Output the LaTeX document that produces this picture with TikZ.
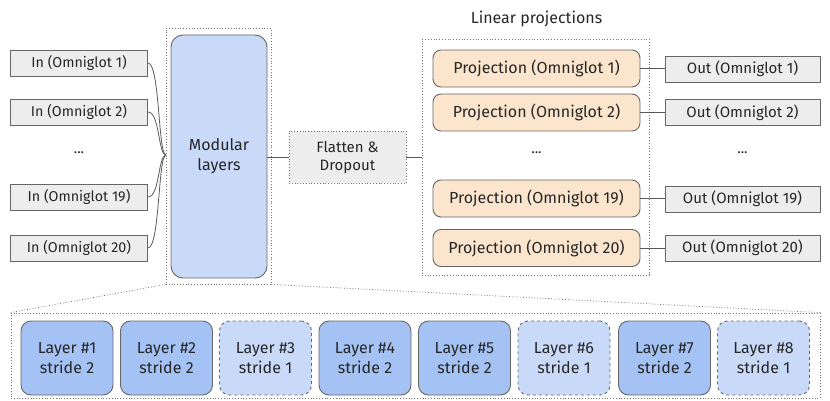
\documentclass[tikz,border=0pt]{standalone}
\usepackage{fontspec}
\setmainfont{Fira Sans}
\usetikzlibrary{calc}
\begin{document}
\begin{tikzpicture}[x=1pt,y=-1pt,
  every node/.style={font=\fontsize{16}{20}\selectfont, text=black!85, inner sep=0pt, align=center},
  iobox/.style={draw=black!60, fill=black!7, line width=0.8pt, minimum height=26pt},
  inbox/.style={iobox, minimum width=137pt, font=\fontsize{14.3}{17}\selectfont},
  outbox/.style={iobox, minimum width=155pt, font=\fontsize{15}{18}\selectfont},
  modbox/.style={draw=black!60, fill={rgb,255:red,201;green,218;blue,248}, line width=0.9pt, rounded corners=12pt},
  projbox/.style={draw=black!60, fill={rgb,255:red,252;green,229;blue,205}, line width=0.9pt, rounded corners=8pt, minimum width=207pt, minimum height=37pt},
  dotbox/.style={draw=black!55, dotted, line width=0.8pt},
  strongl/.style={draw=black!60, fill={rgb,255:red,164;green,194;blue,244}, line width=0.9pt, rounded corners=10pt, minimum width=92pt, minimum height=74pt},
  weakl/.style={draw=black!60, fill={rgb,255:red,201;green,218;blue,248}, dashed, line width=0.9pt, rounded corners=10pt, minimum width=92pt, minimum height=74pt},
  conn/.style={draw=black!65, line width=0.8pt}
]
\useasboundingbox (0,0) rectangle (830,401);
% inputs
\node[inbox] (in1) at (79,63) {In (Omniglot 1)};
\node[inbox] (in2) at (79,112) {In (Omniglot 2)};
\node[font=\fontsize{14.3}{17}\selectfont] (indots) at (79,153) {...};
\node[inbox] (in19) at (79,197) {In (Omniglot 19)};
\node[inbox] (in20) at (79,248) {In (Omniglot 20)};
% modular
\node[dotbox, minimum width=105pt, minimum height=256pt] (modframe) at (218.5,156) {};
\node[modbox, minimum width=96pt, minimum height=243pt] (mod) at (219,156.5) {Modular\\layers};
\coordinate (join) at (166,155);
\foreach \n in {in1,in2,in19,in20}{
  \draw[conn] (\n.east) .. controls ($(\n.east)+(12,0)$) and ($(join)+(-8,0)$) .. (join);
}
% flatten
\node[dotbox, fill=black!7, minimum width=117pt, minimum height=52pt, font=\fontsize{15}{18}\selectfont] (flat) at (347.5,157) {Flatten \&\\Dropout};
\draw[conn] (mod.east |- flat.west) -- (flat.west);
% linear projections
\node[dotbox, minimum width=227pt, minimum height=236pt] (linframe) at (535.5,157) {};
\node (lintitle) at (536.5,19) {Linear projections};
\draw[conn] (flat.east) -- (linframe.west |- flat.east);
\node[projbox] (p1) at (536.5,68.5) {Projection (Omniglot 1)};
\node[projbox] (p2) at (536.5,112.5) {Projection (Omniglot 2)};
\node[font=\fontsize{14.3}{17}\selectfont] (pdots) at (536.5,153) {...};
\node[projbox] (p19) at (536.5,198.5) {Projection (Omniglot 19)};
\node[projbox] (p20) at (536.5,248) {Projection (Omniglot 20)};
\node[outbox] (o1) at (742.5,69) {Out (Omniglot 1)};
\node[outbox] (o2) at (742.5,112.5) {Out (Omniglot 2)};
\node[font=\fontsize{14.3}{17}\selectfont] (odots) at (742.5,153) {...};
\node[outbox] (o19) at (742.5,199) {Out (Omniglot 19)};
\node[outbox] (o20) at (742.5,248) {Out (Omniglot 20)};
\foreach \i in {1,2,19,20}{
  \draw[conn] (p\i.east) -- (o\i.west |- p\i.east);
}
% bottom
\node[dotbox, minimum width=809pt, minimum height=85pt] (bottom) at (415.5,355.5) {};
\draw[dotbox] (modframe.south west) -- (bottom.north west);
\draw[dotbox] (modframe.south east) -- (bottom.north east);
\node[strongl] (l1) at (67,358) {Layer \#1\\stride 2};
\node[strongl] (l2) at (166.5,358) {Layer \#2\\stride 2};
\node[weakl] (l3) at (265.5,358) {Layer \#3\\stride 1};
\node[strongl] (l4) at (365,358) {Layer \#4\\stride 2};
\node[strongl] (l5) at (464.5,358) {Layer \#5\\stride 2};
\node[weakl] (l6) at (564,358) {Layer \#6\\stride 1};
\node[strongl] (l7) at (664.5,358) {Layer \#7\\stride 2};
\node[weakl] (l8) at (763.5,358) {Layer \#8\\stride 1};
\end{tikzpicture}
\end{document}
